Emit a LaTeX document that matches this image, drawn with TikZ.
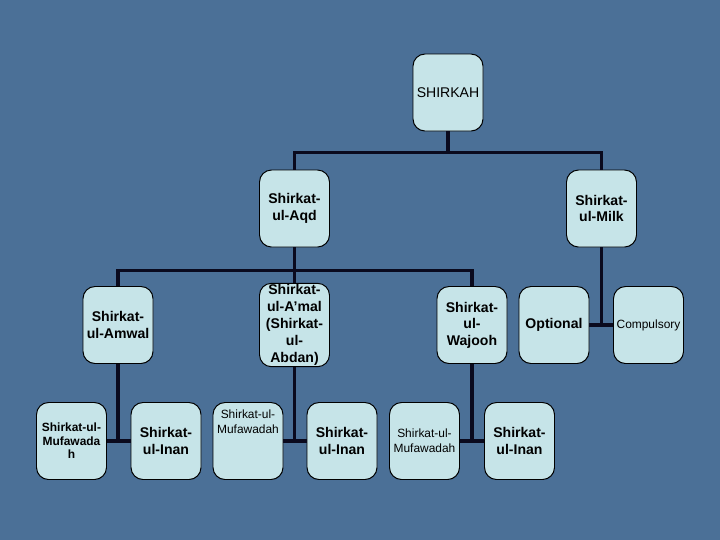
\documentclass[tikz,border=0pt]{standalone}
\usepackage{fontspec}
\setmainfont{Liberation Sans}
\usetikzlibrary{calc}
\definecolor{slideblue}{RGB}{75,112,151}
\definecolor{boxcyan}{RGB}{198,228,232}
\definecolor{wirenavy}{RGB}{10,10,30}

\begin{document}
\begin{tikzpicture}[
            box/.style={draw=black, line width=0.7pt, fill=boxcyan, rounded corners=0.3cm,
                minimum width=1.75cm, minimum height=1.925cm, inner sep=1pt, align=center,
                font=\bfseries\fontsize{10}{11.7}\selectfont},
            thin/.style={font=\fontsize{8.5}{10.5}\selectfont},
            wire/.style={draw=wirenavy, line width=2.7pt}]
            % slide background
            \fill[slideblue] (0,0) rectangle (18,-13.5);

            % boxes
            \node[box, font=\fontsize{10}{12}\selectfont] (shirkah) at (11.2,-2.3125) {SHIRKAH};
            \node[box] (aqd) at (7.3625,-5.2125) {Shirkat-\\ul-Aqd};
            \node[box] (milk) at (15.0375,-5.2125) {Shirkat-\\ul-Milk};
            \node[box] (amwal) at (2.95,-8.125) {Shirkat-\\ul-Amwal};
            \node[box, font=\bfseries\fontsize{10}{12}\selectfont] (amal) at (7.3625,-8.125) {Shirkat-\\ul-A’mal\\(Shirkat-\\ul-\\Abdan)};
            \node[box] (wajooh) at (11.8,-8.125) {Shirkat-\\ul-\\Wajooh};
            \node[box] (optional) at (13.85,-8.125) {Optional};
            \node[box, thin] (compulsory) at (16.2125,-8.125) {Compulsory};
            \node[box, font=\bfseries\fontsize{8.5}{9.5}\selectfont] (mufA) at (1.7875,-11.025) {Shirkat-ul-\\Mufawada\\h};
            \node[box] (inanA) at (4.15,-11.025) {Shirkat-\\ul-Inan};
            \node[box] (mufB) at (6.2,-11.025) {};
            \node[thin, align=center, anchor=north, inner sep=1pt] (mufBtext) at ($(mufB.north)+(0,-0.15)$) {Shirkat-ul-\\Mufawadah};
            \node[box] (inanB) at (8.55,-11.025) {Shirkat-\\ul-Inan};
            \node[box, thin] (mufC) at (10.6125,-11.025) {Shirkat-ul-\\Mufawadah};
            \node[box] (inanC) at (12.9875,-11.025) {Shirkat-\\ul-Inan};

            % connectors
            \draw[wire] (shirkah.south) -- ++(0,-0.525) coordinate (topjoin);
            \draw[wire] (aqd.north) |- (topjoin) -| (milk.north);
            \draw[wire] (aqd.south) -- ++(0,-0.575) coordinate (aqdjoin);
            \draw[wire] (amwal.north) |- (aqdjoin) -| (wajooh.north);
            \draw[wire] (aqdjoin) -- (amal.north);
            \draw[wire] (milk.south) -- (milk.south |- optional.east);
            \draw[wire] (optional.east) -- (compulsory.west);
            \draw[wire] (amwal.south) -- (amwal.south |- mufA.east);
            \draw[wire] (mufA.east) -- (inanA.west);
            \draw[wire] (amal.south) -- (amal.south |- mufB.east);
            \draw[wire] (mufB.east) -- (inanB.west);
            \draw[wire] (wajooh.south) -- (wajooh.south |- mufC.east);
            \draw[wire] (mufC.east) -- (inanC.west);
        \end{tikzpicture}
\end{document}
